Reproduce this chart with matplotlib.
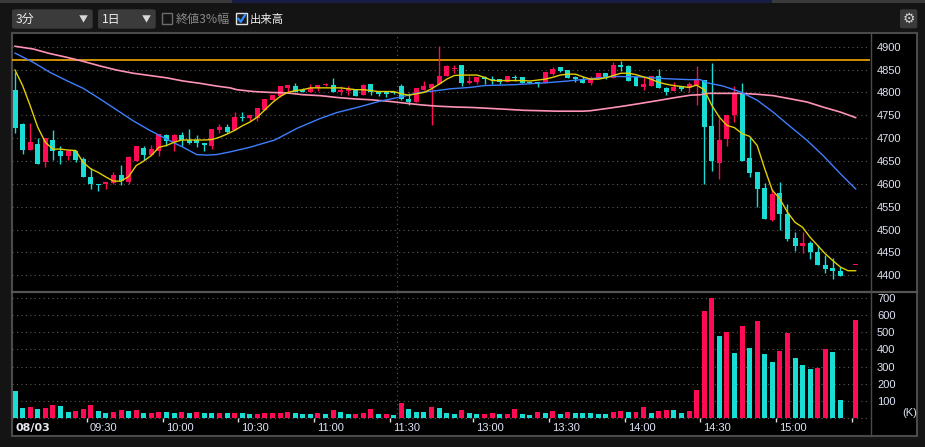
import numpy as np
import matplotlib
matplotlib.use('Agg')
import matplotlib.pyplot as plt
from matplotlib.patches import Rectangle, FancyBboxPatch
from matplotlib.lines import Line2D

W, H = 925, 447
UP = '#ff0a54'
DOWN = '#19dcd4'
TXT = '#dfe3f5'
GRID = '#5c5c5c'
JP = ['Noto Sans CJK JP', 'DejaVu Sans']
NUM = 'Liberation Sans'

# 3-minute bars, 09:00 .. 11:30 (51 bars) and 12:30 .. 15:30 (61 bars)
opens = [4806, 4730, 4675, 4688, 4647, 4697, 4671, 4660, 4671, 4655,
         4616, 4600, 4599, 4601, 4620, 4605, 4651, 4679, 4664, 4671,
         4706, 4691, 4706, 4695, 4697, 4690, 4682, 4717, 4725, 4717,
         4747, 4745, 4743, 4762, 4784, 4793, 4810, 4815, 4806, 4802,
         4810, 4817, 4817, 4800, 4804, 4806, 4795, 4819, 4800, 4800,
         4799, 4813, 4785, 4778, 4805, 4809, 4818, 4835, 4852, 4859,
         4820, 4822, 4833, 4829, 4829, 4822, 4833, 4833, 4822, 4822,
         4820, 4840, 4855, 4848, 4833, 4829, 4820, 4829, 4842, 4831,
         4861, 4857, 4833, 4811, 4815, 4837, 4809, 4804, 4813, 4809,
         4817, 4827, 4726, 4646, 4698, 4751, 4799, 4656, 4627, 4592,
         4521, 4581, 4535, 4482, 4465, 4470, 4451, 4423, 4415, 4409,
         np.nan, 4423]
highs = [4844, 4734, 4734, 4700, 4700, 4717, 4683, 4675, 4675, 4658,
         4634, 4600, 4605, 4625, 4642, 4660, 4682, 4682, 4686, 4708,
         4710, 4708, 4714, 4719, 4706, 4690, 4719, 4730, 4730, 4758,
         4758, 4751, 4767, 4786, 4795, 4815, 4817, 4821, 4810, 4819,
         4817, 4821, 4832, 4813, 4813, 4808, 4819, 4819, 4804, 4804,
         4800, 4818, 4798, 4809, 4824, 4818, 4902, 4861, 4861, 4859,
         4837, 4833, 4837, 4835, 4829, 4835, 4839, 4833, 4823, 4822,
         4844, 4855, 4855, 4848, 4837, 4837, 4837, 4842, 4842, 4866,
         4868, 4859, 4833, 4833, 4837, 4852, 4811, 4822, 4813, 4822,
         4858, 4827, 4865, 4745, 4750, 4814, 4821, 4703, 4627, 4602,
         4589, 4605, 4556, 4494, 4494, 4475, 4467, 4445, 4438, 4419,
         np.nan, 4423]
lows = [4711, 4665, 4675, 4644, 4636, 4653, 4644, 4652, 4647, 4614,
        4588, 4584, 4588, 4599, 4597, 4599, 4651, 4653, 4664, 4662,
        4682, 4673, 4682, 4688, 4680, 4673, 4677, 4712, 4712, 4717,
        4738, 4738, 4738, 4762, 4784, 4791, 4800, 4800, 4800, 4800,
        4804, 4813, 4800, 4795, 4795, 4793, 4795, 4795, 4793, 4791,
        4797, 4783, 4772, 4778, 4805, 4728, 4818, 4835, 4842, 4813,
        4818, 4818, 4818, 4818, 4818, 4822, 4825, 4820, 4820, 4811,
        4820, 4838, 4844, 4831, 4822, 4820, 4816, 4829, 4829, 4831,
        4846, 4826, 4813, 4805, 4815, 4809, 4794, 4804, 4804, 4800,
        4773, 4600, 4628, 4611, 4683, 4736, 4650, 4616, 4549, 4523,
        4518, 4499, 4475, 4453, 4449, 4435, 4422, 4404, 4391, 4399,
        np.nan, 4423]
closes = [4723, 4675, 4692, 4644, 4700, 4671, 4660, 4671, 4653, 4614,
          4599, 4598, 4605, 4620, 4607, 4658, 4682, 4664, 4677, 4708,
          4693, 4706, 4695, 4690, 4690, 4684, 4719, 4725, 4714, 4747,
          4743, 4751, 4767, 4786, 4795, 4813, 4817, 4802, 4800, 4810,
          4817, 4818, 4800, 4806, 4808, 4793, 4817, 4800, 4797, 4797,
          4798, 4785, 4778, 4809, 4813, 4818, 4837, 4857, 4853, 4820,
          4824, 4833, 4829, 4827, 4822, 4835, 4831, 4820, 4821, 4818,
          4844, 4851, 4846, 4831, 4829, 4820, 4829, 4842, 4833, 4861,
          4855, 4826, 4813, 4818, 4837, 4809, 4802, 4811, 4807, 4818,
          4830, 4725, 4650, 4695, 4750, 4799, 4650, 4624, 4589, 4523,
          4578, 4535, 4480, 4464, 4471, 4450, 4422, 4413, 4410, 4399,
          np.nan, 4423]

# volume in thousands, and its colour flag (1 = red, 0 = cyan)
volume = [158, 57, 62, 51, 57, 74, 68, 33, 39, 51,
          74, 39, 27, 33, 45, 39, 45, 27, 27, 33,
          33, 27, 33, 27, 33, 27, 27, 27, 27, 27,
          27, 21, 21, 27, 27, 27, 33, 27, 21, 21,
          27, 21, 45, 33, 21, 21, 27, 51, 21, 21,
          16, 86, 51, 33, 33, 62, 57, 27, 21, 45,
          27, 21, 21, 27, 21, 21, 51, 21, 16, 33,
          27, 39, 21, 33, 27, 27, 27, 21, 21, 33,
          39, 33, 33, 62, 27, 39, 45, 45, 27, 39,
          162, 625, 701, 478, 502, 379, 537, 408, 566, 373,
          326, 391, 496, 350, 309, 285, 291, 402, 385, 103,
          0, 572]
vol_up = [0, 0, 1, 0, 1, 1, 0, 0, 1, 1,
          1, 0, 0, 1, 1, 0, 1, 0, 1, 1,
          0, 0, 1, 0, 1, 0, 0, 1, 0, 1,
          0, 0, 1, 1, 1, 1, 1, 0, 0, 0,
          1, 0, 1, 0, 0, 1, 1, 1, 0, 1,
          0, 1, 0, 0, 0, 1, 0, 0, 0, 1,
          0, 0, 1, 1, 0, 1, 1, 0, 0, 1,
          0, 1, 0, 1, 0, 0, 0, 0, 0, 1,
          1, 0, 1, 1, 0, 1, 1, 0, 0, 1,
          1, 1, 1, 0, 1, 0, 1, 0, 1, 0,
          0, 1, 1, 0, 0, 0, 1, 1, 0, 0,
          0, 1]

ma_short = [4849, 4815, 4771, 4724, 4691, 4676, 4676, 4674, 4673, 4647,
            4633, 4625, 4615, 4606, 4606, 4616, 4640, 4650, 4662, 4680,
            4684, 4691, 4696, 4696, 4696, 4696, 4697, 4702, 4709, 4717,
            4727, 4735, 4746, 4762, 4778, 4791, 4800, 4804, 4806, 4810,
            4810, 4810, 4810, 4810, 4808, 4806, 4806, 4804, 4802, 4802,
            4802, 4797, 4794, 4797, 4800, 4808, 4818, 4829, 4837, 4838,
            4838, 4838, 4833, 4826, 4826, 4826, 4826, 4826, 4825, 4827,
            4829, 4833, 4838, 4840, 4840, 4834, 4829, 4829, 4832, 4837,
            4842, 4842, 4839, 4834, 4829, 4822, 4818, 4815, 4813, 4811,
            4816, 4806, 4772, 4746, 4728, 4723, 4710, 4704, 4684, 4633,
            4586, 4567, 4538, 4516, 4505, 4483, 4465, 4447, 4432, 4418,
            4410, 4410]

ma_mid_x = [0, 2.4, 4.6, 6.8, 9, 11.2, 13.4, 15.6, 17.8, 20, 22.2, 24, 25.3,
            26.6, 28.4, 31, 34.3, 37.3, 40.3, 42.5, 45.6, 48.2, 50.9, 53.5,
            55.7, 57.5, 60.1, 62, 66, 70, 73, 76, 79, 82.6, 86, 89, 90.5,
            91.4, 93.5, 95.8, 98, 100.1, 102.4, 104.6, 106.7, 109, 111]
ma_mid = [4886, 4866, 4844, 4826, 4809, 4786, 4762, 4738, 4717, 4698, 4680,
          4664, 4663, 4664, 4670, 4680, 4696, 4722, 4743, 4756, 4769, 4781,
          4790, 4800, 4804, 4808, 4811, 4815, 4817, 4821, 4825, 4830, 4835,
          4834, 4830, 4828, 4828, 4821, 4814, 4801, 4783, 4757, 4725, 4695,
          4662, 4622, 4589]

ma_long_x = [0, 2.4, 4.6, 6.8, 9, 11.2, 13.4, 15.6, 17.8, 20, 22.2, 24.4,
             26.6, 28.4, 29.3, 31.5, 33.7, 35.9, 38, 40.3, 42.5, 44.7, 46.9,
             49.1, 51.3, 53.5, 55.7, 58.3, 60.5, 62.8, 65, 67.1, 69.4, 71.6,
             73.7, 75, 76, 78.2, 80.3, 82.6, 84.8, 86.9, 89.2, 90.5, 91.4,
             93.5, 95.8, 98, 100.1, 102.4, 104.6, 106.7, 109, 111]
ma_long = [4901, 4895, 4885, 4877, 4868, 4858, 4849, 4842, 4837, 4832, 4825,
           4820, 4814, 4810, 4806, 4802, 4800, 4799, 4795, 4793, 4789, 4786,
           4784, 4781, 4777, 4773, 4770, 4768, 4767, 4765, 4763, 4761, 4760,
           4759, 4759, 4759, 4760, 4765, 4770, 4776, 4782, 4788, 4794, 4795,
           4798, 4798, 4798, 4796, 4793, 4786, 4779, 4768, 4757, 4745]

prev_close = 4870
price_ticks = [4400, 4450, 4500, 4550, 4600, 4650, 4700, 4750, 4800, 4850, 4900]
vol_ticks = [100, 200, 300, 400, 500, 600, 700]
tick_times = ['09:30', '10:00', '10:30', '11:00', '11:30', '13:00',
              '13:30', '14:00', '14:30', '15:00', '15:30']
tick_labels = ['09:30', '10:00', '10:30', '11:00', '11:30', '13:00',
               '13:30', '14:00', '14:30', '15:00', '']
date_label = '08/03'


def bar_index(t):
    h, m = map(int, t.split(':'))
    mins = h * 60 + m
    if mins <= 11 * 60 + 30:
        return (mins - 9 * 60) / 3
    return 51 + (mins - (12 * 60 + 30)) / 3


def rect(left, top, right, bottom):
    return [left / W, 1 - bottom / H, (right - left) / W, (bottom - top) / H]


def add_patch(p):
    p.set_zorder(-5)
    fig.patches.append(p)


fig = plt.figure(figsize=(W / 100, H / 100), dpi=100, facecolor='#141414')

# frame and toolbar
add_patch(Rectangle((0, 1 - 2.5 / H), 1, 2.5 / H, transform=fig.transFigure,
                    facecolor='#3a3a3a', edgecolor='none'))
add_patch(Rectangle((232 / W, 1 - 2.5 / H), 540 / W, 2.5 / H, transform=fig.transFigure,
                    facecolor='#171d45', edgecolor='none'))
add_patch(Rectangle((12 / W, 1 - 436 / H), 905 / W, 403 / H, transform=fig.transFigure,
                    facecolor='black', edgecolor='#4a4a4a', linewidth=1.5))

for (l, r, label, ax_x) in [(12, 92.7, '3分', 83), (98, 155.7, '1日', 146)]:
    add_patch(FancyBboxPatch((l / W, 1 - 28.7 / H), (r - l) / W, 19.4 / H,
                             boxstyle='round,pad=0,rounding_size=0.004',
                             transform=fig.transFigure, facecolor='#3b3b3b',
                             edgecolor='none'))
    fig.text((l + 4) / W, 1 - 19.5 / H, label, color='#ececec', fontsize=8.7,
             family=JP, va='center', ha='left')
    fig.text(ax_x / W, 1 - 19.5 / H, '▼', color='#d8d8d8', fontsize=6.5,
             family=JP, va='center', ha='center')

add_patch(Rectangle((162 / W, 1 - 24.3 / H), 10.3 / W, 11 / H, transform=fig.transFigure,
                    facecolor='none', edgecolor='#6c6c6c', linewidth=1))
fig.text(176 / W, 1 - 19.5 / H, '終値3%幅', color='#8a8a8a', fontsize=8.7,
         family=JP, va='center', ha='left')
add_patch(Rectangle((236 / W, 1 - 24.3 / H), 10.5 / W, 11 / H, transform=fig.transFigure,
                    facecolor='#1c1c1c', edgecolor='#e2e2e2', linewidth=1))
fig.lines.append(Line2D([238.3 / W, 240.8 / W, 245 / W],
                        [1 - 18.8 / H, 1 - 21.8 / H, 1 - 15 / H],
                        transform=fig.transFigure, color='#2f8fff', linewidth=1.6))
fig.text(250 / W, 1 - 19.5 / H, '出来高', color='#f0f0f0', fontsize=8.2,
         family=JP, va='center', ha='left')

add_patch(FancyBboxPatch((900 / W, 1 - 28.3 / H), 17.3 / W, 19 / H,
                         boxstyle='round,pad=0,rounding_size=0.003',
                         transform=fig.transFigure, facecolor='#3a3a3a',
                         edgecolor='none'))
fig.text(908.7 / W, 1 - 18.8 / H, '⚙', color='#cfcfcf', fontsize=10,
         family='DejaVu Sans', va='center', ha='center')

# axes
ax = fig.add_axes(rect(12, 33, 870, 291))
axv = fig.add_axes(rect(12, 293, 870, 417.7))

x = np.arange(len(closes))
o = np.array(opens, dtype=float)
h = np.array(highs, dtype=float)
lo = np.array(lows, dtype=float)
c = np.array(closes, dtype=float)
ok = ~np.isnan(c)
up = c >= o
colors = np.where(up, UP, DOWN)

for a in (ax, axv):
    a.set_facecolor('none')
    a.set_xlim(-0.4, 112.9)
    for s in a.spines.values():
        s.set_visible(False)
    a.axvline(50.5, color=GRID, linestyle=(0, (1, 3)), linewidth=0.8, zorder=1)

ax.set_ylim(4365.7, 4930.0)
for p in price_ticks:
    ax.axhline(p, color=GRID, linestyle=(0, (1, 3)), linewidth=0.8, zorder=1)
ax.axhline(prev_close, color='#f2a900', linewidth=1.2, zorder=2)

ax.vlines(x[ok], lo[ok], h[ok], colors=colors[ok], linewidth=1.0, zorder=3)
body = np.maximum(np.abs(c - o), 2.5)
ax.bar(x[ok], body[ok], bottom=np.minimum(o, c)[ok], width=0.66,
       color=colors[ok], linewidth=0, zorder=4)

ax.plot(ma_long_x, ma_long, color='#ff93b4', linewidth=1.2, zorder=5)
ax.plot(ma_mid_x, ma_mid, color='#3d7fff', linewidth=1.0, zorder=5)
ax.plot(x, ma_short, color='#e3cf00', linewidth=1.0, zorder=6)

ax.set_xticks([])
ax.yaxis.set_ticks_position('right')
ax.set_yticks(price_ticks)
ax.tick_params(axis='y', length=0, pad=5, labelcolor=TXT, labelsize=8)

axv.set_ylim(0, 731)
for v in vol_ticks + [0]:
    axv.axhline(v, color=GRID, linestyle=(0, (1, 3)), linewidth=0.8, zorder=1,
                clip_on=False)
vcol = [UP if f else DOWN for f in vol_up]
axv.bar(x, volume, width=0.66, color=vcol, linewidth=0, zorder=3)
axv.yaxis.set_ticks_position('right')
axv.set_yticks(vol_ticks)
axv.tick_params(axis='y', length=0, pad=5, labelcolor=TXT, labelsize=8)
axv.text(1.038, 0.04, '(K)', transform=axv.transAxes, color=TXT, fontsize=8,
         family=NUM, ha='left', va='center')

tpos = [bar_index(t) - 0.5 for t in tick_times]
axv.set_xticks(tpos)
axv.set_xticklabels([])
axv.tick_params(axis='x', length=3, width=1, color='#e0e0e0', direction='out')
for tp, lab in zip(tpos, tick_labels):
    axv.text(tp + 0.4, -0.085, lab, transform=axv.get_xaxis_transform(),
             color=TXT, fontsize=8, family=NUM, ha='left', va='center')
axv.text(0.0, -0.085, date_label, transform=axv.get_xaxis_transform(),
         color='#e8e8f0', fontsize=8, family='DejaVu Sans', fontweight='bold',
         ha='left', va='center')

for lab in ax.get_yticklabels() + axv.get_yticklabels():
    lab.set_family(NUM)

# separators
fig.lines.append(Line2D([12 / W, 917 / W], [1 - 292 / H, 1 - 292 / H],
                        transform=fig.transFigure, color='#555555', linewidth=1.6))
fig.lines.append(Line2D([870.5 / W, 870.5 / W], [1 - 33 / H, 1 - 436 / H],
                        transform=fig.transFigure, color='#4a4a4a', linewidth=1.0))

fig.savefig('out.png', dpi=100, facecolor=fig.get_facecolor())
